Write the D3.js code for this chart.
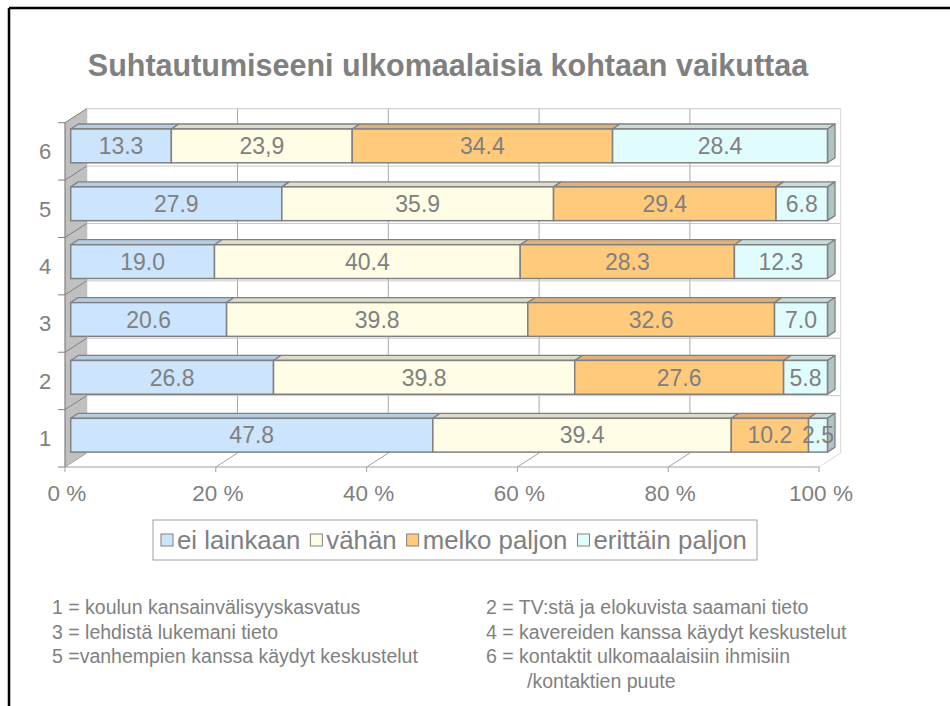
<!DOCTYPE html>
<html lang="fi">
<head>
  <meta charset="UTF-8">
  <title>Suhtautumiseeni ulkomaalaisia kohtaan vaikuttaa</title>
  <script src="https://d3js.org/d3.v7.min.js"></script>
  <style>
    body { margin: 0; background: #fff; }
    text { font-family: Arial, "Liberation Sans", sans-serif; fill: #808080; }
  </style>
</head>
<body>
  <div id="chart"></div>
  <script type="text/javascript">
    // data (percent of answers)
    var categories = ["1", "2", "3", "4", "5", "6"];
    var seriesNames = ["ei lainkaan", "vähän", "melko paljon", "erittäin paljon"];
    var eiLainkaan = [47.8, 26.8, 20.6, 19.0, 27.9, 13.3];
    var vahan = [39.4, 39.8, 39.8, 40.4, 35.9, 23.9];
    var melkoPaljon = [10.2, 27.6, 32.6, 28.3, 29.4, 34.4];
    var erittainPaljon = [2.5, 5.8, 7.0, 12.3, 6.8, 28.4];
    // one label in the original uses a decimal comma
    var labelOverrides = { "6|vähän": "23,9" };
    var xTicks = [0, 20, 40, 60, 80, 100];
    var notesLeft = [
      "1 = koulun kansainvälisyyskasvatus",
      "3 = lehdistä lukemani tieto",
      "5 =vanhempien kanssa käydyt keskustelut"
    ];
    var notesRight = [
      "2 = TV:stä ja elokuvista saamani tieto",
      "4 = kavereiden kanssa käydyt keskustelut",
      "6 = kontaktit ulkomaalaisiin ihmisiin",
      "/kontaktien puute"
    ];

    var frontColors = ["#cce4fc", "#fffde6", "#ffca7c", "#e0fcfc"];
    var topColors = ["#b4cce4", "#dcdcc8", "#e0b07c", "#c8dcdc"];
    var sideColor = "#b0c4c4";
    var lineGray = "#808080";

    var W = 950, H = 706;
    var svg = d3.select("#chart").append("svg")
      .attr("width", W).attr("height", H);

    // slide frame (only top and left edges are visible)
    svg.append("line").attr("x1", 9).attr("y1", 8).attr("x2", W).attr("y2", 8)
      .attr("stroke", "#000").attr("stroke-width", 2.5);
    svg.append("line").attr("x1", 9).attr("y1", 8).attr("x2", 9).attr("y2", H)
      .attr("stroke", "#000").attr("stroke-width", 2.5);

    svg.append("text")
      .attr("x", 448).attr("y", 76)
      .attr("text-anchor", "middle")
      .style("font-size", "30.5px").style("font-weight", "bold")
      .text("Suhtautumiseeni ulkomaalaisia kohtaan vaikuttaa");

    // rows as objects for d3.stack
    var rows = categories.map(function (c, i) {
      var r = { cat: c };
      r[seriesNames[0]] = eiLainkaan[i];
      r[seriesNames[1]] = vahan[i];
      r[seriesNames[2]] = melkoPaljon[i];
      r[seriesNames[3]] = erittainPaljon[i];
      return r;
    });
    var stacked = d3.stack().keys(seriesNames).offset(d3.stackOffsetExpand)(rows);

    // front axis scales
    var x = d3.scaleLinear().domain([0, 100]).range([65, 819]);
    var y = d3.scaleBand().domain(categories.slice().reverse()).range([122.7, 467]);
    // 3d depth of the walls
    var DX = 21.7, DY = -14;

    // bars sit a bit into the depth, so they get their own scales
    var xBar = d3.scaleLinear().domain([0, 1]).range([70.7, 827.5]);
    var yBar = d3.scaleBand().domain(categories.slice().reverse()).range([129, 129 + 6 * 57.86]);
    var faceH = 33.8, bdx = 7.5, bdy = -5;

    var grid = svg.append("g");
    // back wall grid
    grid.selectAll(".vgrid").data(xTicks).enter().append("line")
      .attr("x1", function (d) { return x(d) + DX; })
      .attr("x2", function (d) { return x(d) + DX; })
      .attr("y1", y.range()[0] + DY).attr("y2", y.range()[1] + DY)
      .attr("stroke", function (d) { return d === 100 ? "#d8d8d8" : "#a8a8a8"; })
      .attr("stroke-width", 1);
    var bounds = categories.map(function (c) { return y(c); });
    grid.selectAll(".hgrid").data(bounds).enter().append("line")
      .attr("x1", x(0) + DX).attr("x2", x(100) + DX)
      .attr("y1", function (d) { return d + DY; })
      .attr("y2", function (d) { return d + DY; })
      .attr("stroke", "#c8c8c8").attr("stroke-width", 1);

    // left side wall
    var y0 = y.range()[0], y1 = y.range()[1];
    grid.append("polygon")
      .attr("points", [[x(0), y0], [x(0) + DX, y0 + DY], [x(0) + DX, y1 + DY], [x(0), y1]].join(" "))
      .attr("fill", "#c0c0c0").attr("stroke", "none");
    grid.append("line").attr("x1", x(0)).attr("x2", x(0)).attr("y1", y0).attr("y2", y1)
      .attr("stroke", lineGray).attr("stroke-width", 1.2);
    grid.selectAll(".ltick").data(bounds.concat([y1])).enter().append("line")
      .attr("x1", x(0) - 7).attr("x2", x(0))
      .attr("y1", function (d) { return d; }).attr("y2", function (d) { return d; })
      .attr("stroke", lineGray);
    grid.selectAll(".ldiag").data(bounds).enter().append("line")
      .attr("x1", x(0)).attr("x2", x(0) + DX)
      .attr("y1", function (d) { return d; }).attr("y2", function (d) { return d + DY; })
      .attr("stroke", lineGray);

    // floor
    grid.append("line").attr("x1", x(0)).attr("x2", x(100)).attr("y1", y1).attr("y2", y1)
      .attr("stroke", "#a0a0a0");
    grid.selectAll(".fdiag").data(xTicks).enter().append("line")
      .attr("x1", function (d) { return x(d); })
      .attr("x2", function (d) { return x(d) + DX; })
      .attr("y1", y1).attr("y2", y1 + DY)
      .attr("stroke", function (d) { return d === 100 ? "#d8d8d8" : "#a0a0a0"; });
    grid.selectAll(".ftick").data(xTicks).enter().append("line")
      .attr("x1", function (d) { return x(d); })
      .attr("x2", function (d) { return x(d); })
      .attr("y1", y1).attr("y2", y1 + 5)
      .attr("stroke", "#a0a0a0");

    // bars, top row first
    var barsG = svg.append("g");
    categories.slice().reverse().forEach(function (c) {
      var ci = categories.indexOf(c);
      var top = yBar(c);
      var g = barsG.append("g");
      stacked.forEach(function (layer, si) {
        var a = xBar(layer[ci][0]), b = xBar(layer[ci][1]);
        // top face
        g.append("polygon")
          .attr("points", [[a, top], [a + bdx, top + bdy], [b + bdx, top + bdy], [b, top]].join(" "))
          .attr("fill", topColors[si]).attr("stroke", lineGray).attr("stroke-width", 1.3)
          .attr("stroke-linejoin", "round");
        if (si === stacked.length - 1) {
          g.append("polygon")
            .attr("points", [[b, top], [b + bdx, top + bdy], [b + bdx, top + bdy + faceH], [b, top + faceH]].join(" "))
            .attr("fill", sideColor).attr("stroke", lineGray).attr("stroke-width", 1.3)
            .attr("stroke-linejoin", "round");
        }
      });
      stacked.forEach(function (layer, si) {
        var a = xBar(layer[ci][0]), b = xBar(layer[ci][1]);
        g.append("rect")
          .attr("x", a).attr("y", top).attr("width", b - a).attr("height", faceH)
          .attr("fill", frontColors[si]).attr("stroke", lineGray).attr("stroke-width", 1.5);
      });
      stacked.forEach(function (layer, si) {
        var a = xBar(layer[ci][0]), b = xBar(layer[ci][1]);
        var key = c + "|" + layer.key;
        var lbl = labelOverrides[key] || d3.format(".1f")(layer[ci].data[layer.key]);
        g.append("text")
          .attr("x", (a + b) / 2).attr("y", top + faceH / 2)
          .attr("dy", "0.36em").attr("text-anchor", "middle")
          .style("font-size", "23px")
          .text(lbl);
      });
    });

    // axis labels
    svg.selectAll(".ylab").data(categories).enter().append("text")
      .attr("x", 45).attr("y", function (d) { return y(d) + y.bandwidth() / 2; })
      .attr("dy", "0.36em").attr("text-anchor", "middle")
      .style("font-size", "22px")
      .text(function (d) { return d; });
    svg.selectAll(".xlab").data(xTicks).enter().append("text")
      .attr("x", function (d) { return x(d) + 2; }).attr("y", 493)
      .attr("dy", "0.36em").attr("text-anchor", "middle")
      .style("font-size", "22.5px")
      .text(function (d) { return d + " %"; });

    // legend
    var legend = svg.append("g");
    legend.append("rect")
      .attr("x", 153).attr("y", 520).attr("width", 604).attr("height", 40)
      .attr("fill", "#fff").attr("stroke", "#a0a0a0");
    var lx = 161;
    seriesNames.forEach(function (name, si) {
      legend.append("rect")
        .attr("x", lx).attr("y", 534).attr("width", 12).attr("height", 12)
        .attr("fill", frontColors[si]).attr("stroke", lineGray);
      var t = legend.append("text")
        .attr("x", lx + 16).attr("y", 540).attr("dy", "0.36em")
        .style("font-size", "25.8px").text(name);
      lx += 16 + t.node().getComputedTextLength() + 10;
    });

    // explanations under the chart
    svg.selectAll(".noteL").data(notesLeft).enter().append("text")
      .attr("x", 52).attr("y", function (d, i) { return 614 + i * 24.5; })
      .style("font-size", "19.5px")
      .text(function (d) { return d; });
    svg.selectAll(".noteR").data(notesRight).enter().append("text")
      .attr("x", function (d, i) { return i === 3 ? 527 : 486; })
      .attr("y", function (d, i) { return 614 + i * 24.5; })
      .style("font-size", "19.5px")
      .text(function (d) { return d; });
  </script>
</body>
</html>
